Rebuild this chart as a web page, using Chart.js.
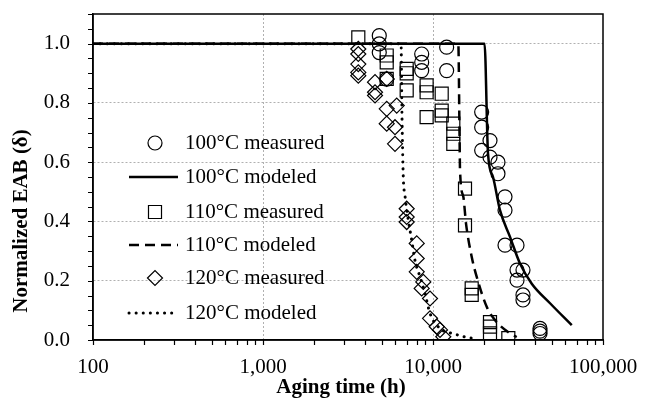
<!DOCTYPE html>
<html>
<head>
<meta charset="utf-8">
<script src="https://cdn.jsdelivr.net/npm/chart.js"></script>
<style>
  body { margin: 0; background: #fff; }
  canvas { display: block; }
</style>
</head>
<body>
<canvas id="eab" width="649" height="401"></canvas>
<script>
// aging time (h) and normalized EAB
const meas100T = [4830, 4830, 4830, 5340, 8580, 8580, 8580, 12030, 12030,
  19330, 19330, 19330, 21640, 21640, 24110, 24110, 26520, 26520, 26520,
  31200, 31200, 31200, 33830, 33830, 33830, 42600, 42600, 42600];
const meas100Y = [1.027, 0.999, 0.97, 0.88, 0.965, 0.937, 0.909, 0.988, 0.909,
  0.769, 0.718, 0.64, 0.673, 0.617, 0.6, 0.561, 0.483, 0.438, 0.32,
  0.32, 0.236, 0.202, 0.236, 0.152, 0.135, 0.039, 0.03, 0.022];

const model100T = [100, 20100, 21060, 22540, 24770, 28380, 32490, 38100, 48800, 65500];
const model100Y = [1.0, 1.0, 0.63, 0.55, 0.438, 0.348, 0.258, 0.19, 0.124, 0.05];

const meas110T = [3636, 5342, 5342, 5342, 7002, 7002, 7002, 9172, 9172, 9172,
  11250, 11250, 11250, 13165, 13165, 13165, 15425, 15425, 16890, 16890,
  21640, 21640, 21640, 27740];
const meas110Y = [1.021, 0.96, 0.937, 0.881, 0.915, 0.9, 0.842, 0.859, 0.836, 0.752,
  0.831, 0.774, 0.758, 0.73, 0.696, 0.662, 0.511, 0.387, 0.174, 0.152,
  0.06, 0.045, 0.022, 0.006];

const model110T = [100, 14090, 14320, 14420, 15080, 15640, 16900, 18080, 20700, 23170, 28380, 31070];
const model110Y = [1.0, 1.0, 0.7, 0.572, 0.483, 0.393, 0.28, 0.213, 0.112, 0.067, 0.022, 0.01];

const meas120T = [3636, 3636, 3636, 3636, 3636, 4560, 4560, 4560, 5342, 5342, 5342,
  6116, 5977, 5977, 7002, 7002, 7002, 8021, 8021, 8021, 8768, 8580,
  9603, 9603, 10515, 10995, 11500];
const meas120Y = [0.982, 0.965, 0.931, 0.903, 0.892, 0.87, 0.836, 0.825, 0.881, 0.78, 0.73,
  0.791, 0.718, 0.662, 0.443, 0.415, 0.398, 0.326, 0.275, 0.23, 0.196, 0.174,
  0.14, 0.073, 0.045, 0.034, 0.011];

const model120T = [100, 6485, 6572, 6686, 6840, 7160, 7495, 7830, 8390, 8980, 9600, 10990, 13460, 15220, 17130];
const model120Y = [1.0, 1.0, 0.75, 0.55, 0.488, 0.404, 0.337, 0.269, 0.213, 0.157, 0.09, 0.039, 0.02, 0.011, 0.006];

// tick positions (major + minor) and the labels shown
const xTickValues = [100, 200, 300, 400, 500, 600, 700, 800, 900,
  1000, 2000, 3000, 4000, 5000, 6000, 7000, 8000, 9000,
  10000, 20000, 30000, 40000, 50000, 60000, 70000, 80000, 90000, 100000];
const xTickLabels = { 100: '100', 1000: '1,000', 10000: '10,000', 100000: '100,000' };
const yTickValues = [0, 0.05, 0.1, 0.15, 0.2, 0.25, 0.3, 0.35, 0.4, 0.45, 0.5, 0.55,
  0.6, 0.65, 0.7, 0.75, 0.8, 0.85, 0.9, 0.95, 1.0, 1.05, 1.1];
const yTickLabels = { 0: '0.0', 0.2: '0.2', 0.4: '0.4', 0.6: '0.6', 0.8: '0.8', 1: '1.0' };

const legendLabels = ['100°C measured', '100°C modeled', '110°C measured',
  '110°C modeled', '120°C measured', '120°C modeled'];

const serif = '"Liberation Serif", "Times New Roman", serif';

function pts(xs, ys) {
  return xs.map((x, i) => ({ x: x, y: ys[i] }));
}

function measured(label, xs, ys, style, r) {
  return {
    type: 'scatter', label: label, data: pts(xs, ys),
    pointStyle: style, pointRadius: r, pointHoverRadius: r,
    pointBorderColor: '#000', pointBackgroundColor: 'rgba(0,0,0,0)',
    pointBorderWidth: 1.2, showLine: false
  };
}

function modeled(label, xs, ys, dash, w, cap) {
  return {
    type: 'line', label: label, data: pts(xs, ys),
    borderColor: '#000', borderWidth: w, borderDash: dash,
    borderCapStyle: cap, pointRadius: 0, cubicInterpolationMode: 'monotone', fill: false
  };
}

const yLabel = v => yTickLabels[Math.round(v * 100) / 100] || '';
const xLabel = v => xTickLabels[Math.round(v)] || '';

const noPad = s => { s.paddingTop = 0; s.paddingBottom = 0; s.paddingLeft = 0; s.paddingRight = 0; };

const decor = {
  id: 'decor',
  afterDraw(chart) {
    const { ctx, chartArea: a, scales } = chart;
    ctx.save();
    ctx.strokeStyle = '#000';
    ctx.lineWidth = 1.5;
    ctx.strokeRect(a.left, a.top, a.right - a.left, a.bottom - a.top);

    // outside tick marks, from the scales' own ticks
    ctx.lineWidth = 1.2;
    ctx.beginPath();
    scales.x.ticks.forEach(t => {
      const px = Math.round(scales.x.getPixelForValue(t.value)) + 0.5;
      ctx.moveTo(px, a.bottom);
      ctx.lineTo(px, a.bottom + 5);
    });
    scales.y.ticks.forEach(t => {
      const py = Math.round(scales.y.getPixelForValue(t.value)) + 0.5;
      ctx.moveTo(a.left, py);
      ctx.lineTo(a.left - 5, py);
    });
    ctx.stroke();

    // axis titles
    ctx.fillStyle = '#000';
    ctx.font = 'bold 21px ' + serif;
    ctx.textAlign = 'center';
    ctx.textBaseline = 'middle';
    ctx.fillText('Aging time (h)', 341, 388);
    ctx.save();
    ctx.translate(22, 221);
    ctx.rotate(-Math.PI / 2);
    ctx.fillText('Normalized EAB (δ)', 0, 0);
    ctx.restore();

    // legend inside the plot
    ctx.font = '21px ' + serif;
    ctx.textAlign = 'left';
    const ys = [143, 177, 212, 245, 278, 313];
    legendLabels.forEach((lab, i) => {
      const y = ys[i];
      const ds = chart.data.datasets[i];
      ctx.save();
      ctx.strokeStyle = '#000';
      if (ds.type === 'scatter') {
        ctx.lineWidth = 1.2;
        ctx.beginPath();
        const cx = 155, r = ds.pointRadius;
        if (ds.pointStyle === 'circle') {
          ctx.arc(cx, y, r, 0, Math.PI * 2);
        } else if (ds.pointStyle === 'rect') {
          const s = r * Math.SQRT1_2;
          ctx.rect(cx - s, y - s, 2 * s, 2 * s);
        } else {
          ctx.moveTo(cx - r, y); ctx.lineTo(cx, y - r);
          ctx.lineTo(cx + r, y); ctx.lineTo(cx, y + r);
          ctx.closePath();
        }
        ctx.stroke();
      } else {
        ctx.lineWidth = ds.borderWidth;
        ctx.setLineDash(ds.borderDash);
        ctx.lineCap = ds.borderCapStyle;
        ctx.beginPath();
        ctx.moveTo(129, y);
        ctx.lineTo(178, y);
        ctx.stroke();
      }
      ctx.restore();
      ctx.fillText(lab, 185, y);
    });
    ctx.restore();
  }
};

new Chart(document.getElementById('eab'), {
  data: {
    datasets: [
      measured(legendLabels[0], meas100T, meas100Y, 'circle', 7),
      modeled(legendLabels[1], model100T, model100Y, [], 2.5, 'butt'),
      measured(legendLabels[2], meas110T, meas110Y, 'rect', 9.2),
      modeled(legendLabels[3], model110T, model110Y, [10, 6], 2.5, 'butt'),
      measured(legendLabels[4], meas120T, meas120Y, 'rectRot', 7.5),
      modeled(legendLabels[5], model120T, model120Y, [0.1, 7], 3, 'round')
    ]
  },
  options: {
    responsive: false,
    animation: false,
    layout: { padding: { left: 0, right: 46, top: 14, bottom: 0 } },
    plugins: { legend: { display: false }, tooltip: { enabled: false } },
    scales: {
      x: {
        type: 'logarithmic',
        min: 100, max: 100000,
        afterBuildTicks: s => { s.ticks = xTickValues.map(v => ({ value: v })); },
        afterFit: s => { s.height = 61; noPad(s); },
        border: { color: '#000', width: 1.5, dash: [2, 2] },
        grid: {
          color: c => (c.tick && xLabel(c.tick.value) && c.tick.value > 100 && c.tick.value < 100000) ? '#b0b0b0' : 'rgba(0,0,0,0)',
          drawTicks: false, lineWidth: 1
        },
        ticks: {
          autoSkip: false, maxRotation: 0, padding: 15,
          color: '#000', font: { family: serif, size: 21 },
          callback: v => xLabel(v)
        }
      },
      y: {
        min: 0, max: 1.1,
        afterBuildTicks: s => { s.ticks = yTickValues.map(v => ({ value: v })); },
        afterFit: s => { s.width = 93; noPad(s); },
        border: { color: '#000', width: 1.5, dash: [2, 2] },
        grid: {
          color: c => (c.tick && yLabel(c.tick.value) && c.tick.value > 0) ? '#b0b0b0' : 'rgba(0,0,0,0)',
          drawTicks: false, lineWidth: 1
        },
        ticks: {
          autoSkip: false, padding: 23,
          color: '#000', font: { family: serif, size: 21 },
          callback: v => yLabel(v)
        }
      }
    }
  },
  plugins: [decor]
});
</script>
</body>
</html>
